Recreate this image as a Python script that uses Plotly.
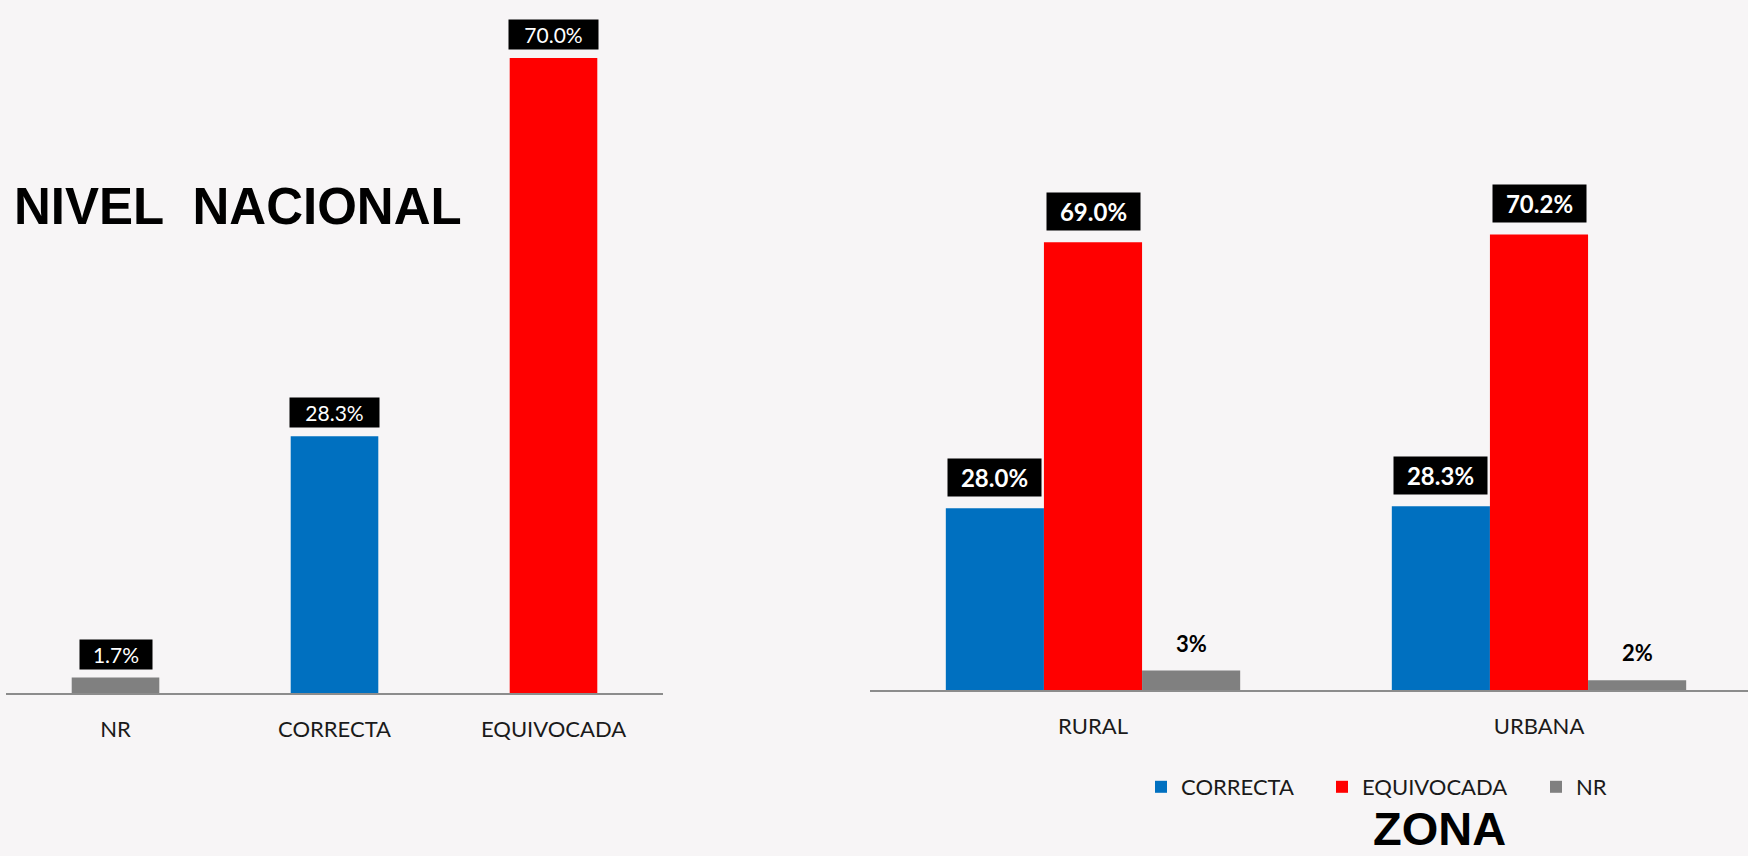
import plotly.graph_objects as go

# ---- data ----
nat_categories = ["NR", "CORRECTA", "EQUIVOCADA"]
nat_values = [1.7, 28.3, 70.0]

zone_categories = ["RURAL", "URBANA"]
zone_correcta = [28.0, 28.3]
zone_equivocada = [69.0, 70.2]
zone_nr = [3.0, 1.5]

series_names = ["CORRECTA", "EQUIVOCADA", "NR"]
title_left = "NIVEL\u00a0\u00a0NACIONAL"
title_right = "ZONA"

# ---- styles ----
C_BLUE = "#0070c0"
C_RED = "#ff0000"
C_GRAY = "#808080"
BG = "#f7f5f6"
FONT = "Lato"
color_map = {"NR": C_GRAY, "CORRECTA": C_BLUE, "EQUIVOCADA": C_RED}

W, H = 1748, 856

fig = go.Figure()

# left chart
fig.add_trace(go.Bar(
    x=nat_categories, y=nat_values,
    marker=dict(color=[color_map[c] for c in nat_categories], line=dict(width=0)),
    width=0.4, showlegend=False, xaxis="x", yaxis="y",
))

# right chart (grouped bars)
BW = 0.22
zone_series = [zone_correcta, zone_equivocada, zone_nr]
zone_colors = [C_BLUE, C_RED, C_GRAY]
offsets = [-1.5 * BW, -0.5 * BW, 0.5 * BW]
legend_ids = ["legend", "legend2", "legend3"]
legend_x = [1141, 1322, 1536]
for name, vals, col, off, lg in zip(series_names, zone_series, zone_colors, offsets, legend_ids):
    fig.add_trace(go.Bar(
        x=zone_categories, y=vals, name=name,
        marker=dict(color=col, line=dict(width=0)),
        width=BW, offset=off, xaxis="x2", yaxis="y2", legend=lg,
    ))

annotations = []
# left labels (black boxes, white regular text)
for c, v in zip(nat_categories, nat_values):
    t = f"{v:.1f}%"
    annotations.append(dict(
        x=c, y=v, xref="x", yref="y", text=t, showarrow=False,
        yanchor="bottom", yshift=8, bgcolor="black",
        font=dict(family=FONT, size=21, color="white"),
        width=17 * len(t), borderpad=2,
    ))

# right labels
for gi, cat in enumerate(zone_categories):
    for si, (vals, off) in enumerate(zip(zone_series, offsets)):
        v = vals[gi]
        xc = gi + off + BW / 2
        if series_names[si] == "NR":
            annotations.append(dict(
                x=xc, y=v, xref="x2", yref="y2", text=f"{v:.0f}%",
                showarrow=False, yanchor="bottom", yshift=12,
                font=dict(family=FONT, size=22, color="black", weight="bold"),
            ))
        else:
            t = f"{v:.1f}%"
            annotations.append(dict(
                x=xc, y=v, xref="x2", yref="y2", text=t,
                showarrow=False, yanchor="bottom", yshift=11, bgcolor="black",
                font=dict(family=FONT, size=24, color="white", weight="bold"),
                width=17 * len(t), borderpad=4,
            ))

annotations.append(dict(
    x=12 / W, y=(H - 176) / H, xref="paper", yref="paper", xanchor="left", yanchor="top",
    text=title_left, showarrow=False,
    font=dict(family="Liberation Sans", size=51, color="black", weight="bold"),
))
annotations.append(dict(
    x=1372 / W, y=0, xref="paper", yref="paper", xanchor="left", yanchor="bottom",
    text=title_right, showarrow=False, borderpad=0,
    font=dict(family="Liberation Sans", size=47, color="black", weight="bold"),
))

axis_common = dict(showgrid=False, zeroline=False, ticks="", showline=True,
                   linecolor="#8c8c8c", linewidth=2,
                   tickfont=dict(family=FONT, size=22, color="#1a1a1a"),
                   ticklabelstandoff=16)

legend_common = dict(orientation="h", xanchor="left", y=(H - 787) / H, yanchor="middle",
                     font=dict(family=FONT, size=22, color="#1a1a1a"),
                     bgcolor="rgba(0,0,0,0)")

fig.update_layout(
    width=W, height=H,
    margin=dict(l=0, r=0, t=0, b=0),
    paper_bgcolor=BG, plot_bgcolor=BG,
    barmode="overlay",
    xaxis=dict(domain=[6 / W, 663 / W], range=[-0.5, 2.5], anchor="y", **axis_common),
    yaxis=dict(domain=[(H - 693) / H, 1], range=[0, 693 / 9.07], visible=False, anchor="x"),
    xaxis2=dict(domain=[870 / W, 1.0], range=[-0.5, -0.5 + (W - 870) / 446], anchor="y2", **axis_common),
    yaxis2=dict(domain=[(H - 690) / H, 1], range=[0, 690 / 6.49], visible=False, anchor="x2"),
    legend=dict(x=legend_x[0] / W, **legend_common),
    legend2=dict(x=legend_x[1] / W, **legend_common),
    legend3=dict(x=legend_x[2] / W, **legend_common),
    annotations=annotations,
)

fig.write_html(
    "out.html",
    config={"displayModeBar": False},
    post_script=("document.body.style.margin='0px';"
                 "document.body.style.background='" + BG + "';"
                 "document.documentElement.style.background='" + BG + "';"),
)
